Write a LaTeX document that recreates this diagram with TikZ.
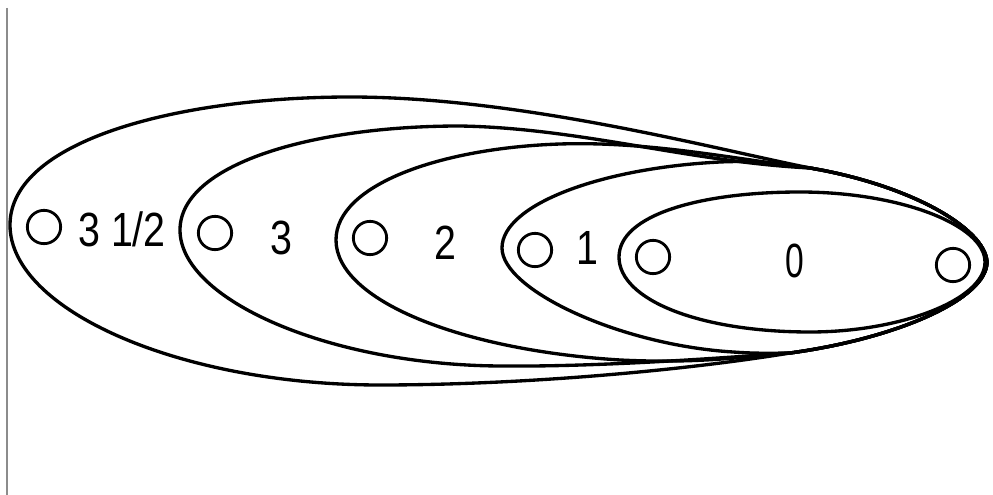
\documentclass[tikz,border=0pt]{standalone}
\usepackage{fontspec}
\setmainfont{Liberation Sans}
\usepackage{graphicx}
\begin{document}
\begin{tikzpicture}[x=0.75pt,y=-0.75pt,
  loop/.style={line width=2.5pt,line join=round},
  dot/.style={circle,draw,line width=2.1pt,minimum size=25pt,inner sep=0pt},
  lbl/.style={inner sep=0pt,font=\fontsize{36}{40}\selectfont}]
\useasboundingbox (0,0) rectangle (993,495);
\draw[line width=1.5pt,black!45] (7,8) -- (7,495);
% outer (3 1/2)
\draw[loop] (810,168) .. controls (910,185) and (985,228) .. (987,262)
  .. controls (987,298) and (900,338) .. (790,353)
  .. controls (680,371) and (520,385) .. (380,385)
  .. controls (180,385) and (10,310) .. (10,225)
  .. controls (10,140) and (180,97) .. (350,97)
  .. controls (520,97) and (710,148) .. cycle;
% shape 3
\draw[loop] (810,168) .. controls (910,185) and (985,228) .. (987,262)
  .. controls (987,298) and (900,338) .. (790,353)
  .. controls (720,358) and (600,367) .. (500,366)
  .. controls (330,365) and (180,300) .. (180,230)
  .. controls (180,165) and (310,126) .. (460,126)
  .. controls (580,128) and (690,162) .. cycle;
% shape 2
\draw[loop] (810,168) .. controls (910,185) and (985,228) .. (987,262)
  .. controls (987,298) and (900,338) .. (790,353)
  .. controls (750,356) and (700,364) .. (620,360)
  .. controls (460,350) and (336,300) .. (336,240)
  .. controls (336,185) and (440,148) .. (560,144)
  .. controls (650,141) and (740,160) .. cycle;
% shape 1
\draw[loop] (810,168) .. controls (910,185) and (985,228) .. (987,262)
  .. controls (987,298) and (900,338) .. (790,353)
  .. controls (780,353) and (760,354) .. (733,352)
  .. controls (620,345) and (502,290) .. (502,248)
  .. controls (502,205) and (600,168) .. (720,162)
  .. controls (760,160) and (790,165) .. cycle;
% shape 0
\draw[loop] (619,257) .. controls (619,215) and (700,192) .. (800,192)
  .. controls (900,192) and (985,225) .. (985,262)
  .. controls (985,300) and (900,332) .. (810,332)
  .. controls (700,332) and (619,300) .. cycle;
% small circles
\node[dot] (c35) at (44,227) {};
\node[dot] (c3) at (215,233) {};
\node[dot] (c2) at (370,238) {};
\node[dot] (c1) at (535,250) {};
\node[dot] (c0a) at (653,257) {};
\node[dot] (c0b) at (953,265) {};
% labels
\node[lbl] (l35) at (122,229) {\scalebox{0.82}[1]{3 1/2}};
\node[lbl] (l3) at (281,238) {\scalebox{0.82}[1]{3}};
\node[lbl] (l2) at (445,243) {\scalebox{0.82}[1]{2}};
\node[lbl] (l1) at (587,248) {\scalebox{0.82}[1]{1}};
\node[lbl] (l0) at (795,261) {\scalebox{0.7}[1]{0}};
\end{tikzpicture}
\end{document}
